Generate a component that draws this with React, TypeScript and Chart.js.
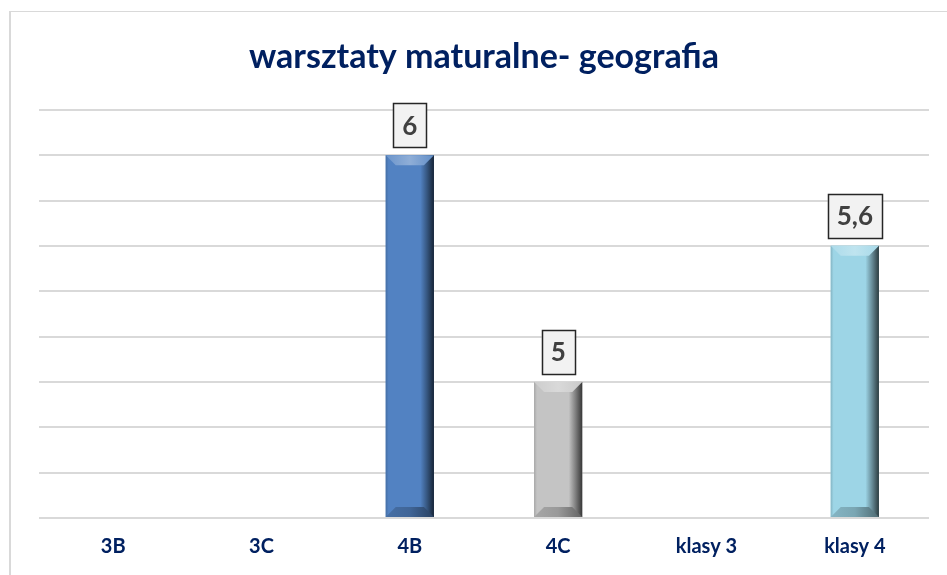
import React, { useEffect, useRef } from "react";
import { Chart, registerables } from "chart.js";

Chart.register(...registerables);

const TITLE = "warsztaty maturalne- geografia";
const categories = ["3B", "3C", "4B", "4C", "klasy 3", "klasy 4"];
const values: (number | null)[] = [null, null, 6, 5, null, 5.6];
const barColors = ["#5282c2", "#5282c2", "#5282c2", "#c4c4c4", "#9dd5e6", "#9dd5e6"];
const yMin = 4.4;
const yMax = 6.2;
const yStep = 0.2;

const NAVY = "#002060";
const FONT = "Lato, 'Open Sans', sans-serif";

function hexToRgb(h: string): number[] {
  const n = parseInt(h.slice(1), 16);
  return [(n >> 16) & 255, (n >> 8) & 255, n & 255];
}
function mix(h: string, amt: number): string {
  const c = hexToRgb(h);
  const t = amt > 0 ? 255 : 0;
  const a = Math.abs(amt);
  const r = c.map((v) => Math.round(v + (t - v) * a));
  return `rgb(${r[0]},${r[1]},${r[2]})`;
}

const bevelPlugin = {
  id: "bevel",
  afterDatasetsDraw(chart: any) {
    const ctx = chart.ctx;
    const meta = chart.getDatasetMeta(0);
    meta.data.forEach((el: any, i: number) => {
      const v = values[i];
      if (v == null) return;
      const col = barColors[i];
      const { x, y, base, width } = el.getProps(["x", "y", "base", "width"], true);
      const l = x - width / 2;
      const r = x + width / 2;
      const b = 10;
      ctx.save();
      const g = ctx.createLinearGradient(l, 0, r, 0);
      g.addColorStop(0, mix(col, -0.15));
      g.addColorStop(0.06, col);
      g.addColorStop(0.72, col);
      g.addColorStop(0.86, mix(col, -0.35));
      g.addColorStop(1, mix(col, -0.72));
      ctx.fillStyle = g;
      ctx.fillRect(l, y, width, base - y);
      const gt = ctx.createLinearGradient(l, 0, r, 0);
      gt.addColorStop(0, mix(col, 0.15));
      gt.addColorStop(0.5, mix(col, 0.35));
      gt.addColorStop(1, mix(col, 0.1));
      ctx.fillStyle = gt;
      ctx.beginPath();
      ctx.moveTo(l, y);
      ctx.lineTo(r, y);
      ctx.lineTo(r - b, y + b);
      ctx.lineTo(l + b, y + b);
      ctx.closePath();
      ctx.fill();
      const gb = ctx.createLinearGradient(l, 0, r, 0);
      gb.addColorStop(0, mix(col, -0.15));
      gb.addColorStop(0.5, mix(col, -0.22));
      gb.addColorStop(1, mix(col, -0.5));
      ctx.fillStyle = gb;
      ctx.beginPath();
      ctx.moveTo(l, base);
      ctx.lineTo(r, base);
      ctx.lineTo(r - b, base - b);
      ctx.lineTo(l + b, base - b);
      ctx.closePath();
      ctx.fill();
      ctx.restore();
    });
  },
};

const labelPlugin = {
  id: "boxLabels",
  afterDatasetsDraw(chart: any) {
    const ctx = chart.ctx;
    const meta = chart.getDatasetMeta(0);
    ctx.save();
    ctx.font = `bold 26px ${FONT}`;
    meta.data.forEach((el: any, i: number) => {
      const v = values[i];
      if (v == null) return;
      const txt = String(v).replace(".", ",");
      const { x, y } = el.getProps(["x", "y"], true);
      const tw = ctx.measureText(txt).width;
      const w = tw + 18;
      const h = 44;
      const bottom = y - 8;
      const top = bottom - h;
      ctx.fillStyle = "#f2f2f2";
      ctx.fillRect(x - w / 2, top, w, h);
      ctx.strokeStyle = "#262626";
      ctx.lineWidth = 1.5;
      ctx.strokeRect(Math.round(x - w / 2) + 0.5, Math.round(top) + 0.5, Math.round(w), h);
      ctx.fillStyle = "#404040";
      ctx.textAlign = "center";
      ctx.textBaseline = "middle";
      ctx.fillText(txt, x, top + h / 2 + 1);
    });
    ctx.restore();
  },
};

export default function App() {
  const ref = useRef<HTMLCanvasElement | null>(null);
  useEffect(() => {
    if (!ref.current) return;
    const chart = new Chart(ref.current, {
      type: "bar",
      data: {
        labels: categories,
        datasets: [
          {
            data: values,
            base: yMin,
            backgroundColor: barColors,
            borderWidth: 0,
            barPercentage: 0.325,
            categoryPercentage: 1,
          } as any,
        ],
      },
      options: {
        responsive: false,
        animation: false,
        layout: { padding: { left: 39, right: 18, top: 0, bottom: 14 } },
        plugins: {
          legend: { display: false },
          tooltip: { enabled: false },
          title: {
            display: true,
            text: TITLE,
            color: NAVY,
            font: { family: FONT, size: 34, weight: "bold", lineHeight: 1.2 },
            padding: { top: 37, bottom: 32 },
          },
        },
        scales: {
          x: {
            grid: { display: false, drawTicks: false },
            border: { display: false },
            ticks: {
              color: NAVY,
              font: { family: FONT, size: 20, weight: "bold", lineHeight: 1.2 },
              padding: 17,
              maxRotation: 0,
            },
            afterFit: (scale: any) => {
              scale.height = 43;
            },
          },
          y: {
            min: yMin,
            max: yMax,
            ticks: { display: false, stepSize: yStep },
            grid: { color: "#d9d9d9", lineWidth: 2, drawTicks: false },
            border: { display: false },
          },
        },
      },
      plugins: [bevelPlugin, labelPlugin],
    });
    return () => chart.destroy();
  }, []);
  return (
    <div style={{ position: "fixed", left: 0, top: 0, width: 947, height: 575, background: "#fff", overflow: "hidden" }}>
      <div
        style={{
          position: "absolute",
          left: 9,
          top: 11,
          width: 960,
          height: 600,
          borderLeft: "2px solid #d9d9d9",
          borderTop: "1px solid #d9d9d9",
        }}
      />
      <canvas ref={ref} width={947} height={575} style={{ position: "absolute", left: 0, top: 0 }} />
    </div>
  );
}
